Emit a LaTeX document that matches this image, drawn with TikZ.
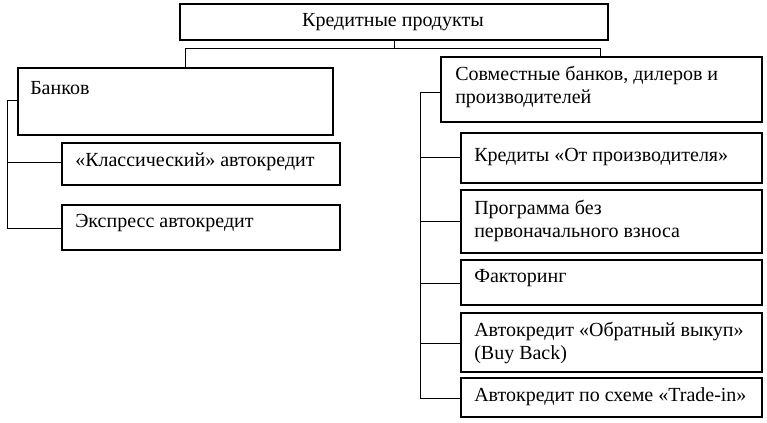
\documentclass[tikz,border=0pt]{standalone}
\usepackage{fontspec}
\setmainfont{Liberation Serif}
\begin{document}
\begin{tikzpicture}[x=0.75pt,y=-0.75pt,
  bx/.style={draw,line width=0.8pt},
  tx/.style={anchor=west,font=\fontsize{15pt}{17pt}\selectfont,align=left,inner sep=0pt},
  ln/.style={line width=0.6pt}]
\useasboundingbox (0,0) rectangle (767,422);
\draw[bx] (180,4) rectangle (608,40);
\node[font=\fontsize{15pt}{17pt}\selectfont] (top) at (393,22) {Кредитные продукты};
\coordinate (tb) at (394,40);
\coordinate (h1) at (394,48);
\coordinate (hl) at (185,48);
\coordinate (hr) at (600,48);
\draw[ln] (tb) -- (h1);
\draw[ln] (hl) -- (hr);
\draw[ln] (hl) -- (185,68);
\draw[ln] (hr) -- (600,57);
% left
\draw[bx] (18,68) rectangle (333,135);
\node[tx] (bank) at (30,88) {Банков};
\draw[bx] (62,143) rectangle (340,185);
\node[tx] (klass) at (75,162) {«Классический» автокредит};
\draw[bx] (62,205) rectangle (340,250);
\node[tx] (expr) at (75,223) {Экспресс автокредит};
\draw[ln] (18,100) -- (7,100) -- (7,228) -- (62,228);
\draw[ln] (7,162) -- (62,162);
% right
\draw[bx] (441,57) rectangle (762,122);
\node[tx] (sovm) at (455,87) {Совместные банков, дилеров и\\производителей};
\draw[bx] (461,133) rectangle (762,183);
\node[tx] (k1) at (474,157) {Кредиты «От производителя»};
\draw[bx] (461,190) rectangle (762,253);
\node[tx] (k2) at (474,221) {Программа без\\первоначального взноса};
\draw[bx] (461,260) rectangle (762,305);
\node[tx] (k3) at (474,278) {Факторинг};
\draw[bx] (461,313) rectangle (762,372);
\node[tx] (k4) at (474,343) {Автокредит «Обратный выкуп»\\(Buy Back)};
\draw[bx] (461,378) rectangle (762,417);
\node[tx] (k5) at (474,397) {Автокредит по схеме «Trade-in»};
\draw[ln] (441,92) -- (420,92) -- (420,398) -- (461,398);
\foreach \yy in {157,221,283,343} \draw[ln] (420,\yy) -- (461,\yy);
\end{tikzpicture}
\end{document}
